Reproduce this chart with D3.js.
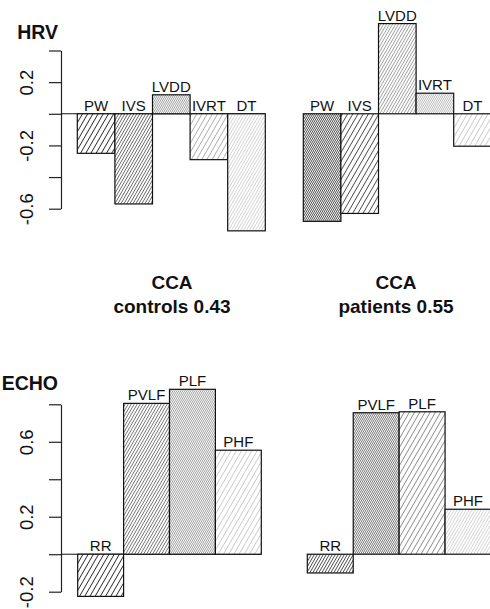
<!DOCTYPE html>
<html>
<head>
<meta charset="utf-8">
<script src="https://cdn.jsdelivr.net/npm/d3@7"></script>
<style>
  body { margin: 0; background: #fff; }
  svg { display: block; font-family: "Liberation Sans", Arial, Helvetica, sans-serif; }
</style>
</head>
<body>
<script>
// data
var hrvVars = ["PW", "IVS", "LVDD", "IVRT", "DT"];
var hrvControls = [-0.25, -0.57, 0.12, -0.29, -0.74];
var hrvPatients = [-0.68, -0.63, 0.57, 0.13, -0.205];
var echoVars = ["RR", "PVLF", "PLF", "PHF"];
var echoControls = [-0.225, 0.805, 0.88, 0.555];
var echoPatients = [-0.10, 0.755, 0.76, 0.24];
var hrvTicks = [-0.6, -0.4, -0.2, 0, 0.2, 0.4];
var hrvTickLabels = [-0.6, -0.2, 0.2];
var echoTicks = [-0.2, 0, 0.2, 0.4, 0.6, 0.8];
var echoTickLabels = [-0.2, 0.2, 0.6];
var groupNames = ["controls 0.43", "patients 0.55"];

// hatch styles (horizontal spacing, line colour) per bar
var S = 5.2, M = 3.0, D = 2.0;
var hrvStyleL = [[S, "#222"], [M, "#444"], [D, "#888"], [S, "#aaa"], [M, "#c8c8c8"]];
var hrvStyleR = [[D, "#222"], [S, "#444"], [M, "#888"], [D, "#aaa"], [S, "#c8c8c8"]];
var echoStyleL = [[S, "#222"], [M, "#555"], [D, "#888"], [S, "#c8c8c8"]];
var echoStyleR = [[M, "#222"], [D, "#555"], [S, "#888"], [M, "#c8c8c8"]];

var W = 490, H = 609;
var svg = d3.select("body").append("svg").attr("width", W).attr("height", H);
var defs = svg.append("defs");

var patCount = 0;
function hatch(style) {
  var id = "h" + (patCount++);
  var dense = style[0] < 2.5;
  var sp = style[0] * Math.cos(Math.PI / 6);
  var p = defs.append("pattern")
    .attr("id", id)
    .attr("patternUnits", "userSpaceOnUse")
    .attr("width", sp).attr("height", 10)
    .attr("patternTransform", "rotate(30)");
  p.append("rect").attr("width", sp).attr("height", 10).attr("fill", "#fff");
  p.append("line")
    .attr("x1", sp / 2).attr("x2", sp / 2)
    .attr("y1", -1).attr("y2", 11)
    .attr("stroke", style[1])
    .attr("stroke-width", dense ? 0.8 : (style[0] < 3.5 ? 0.75 : 0.9))
    .attr("shape-rendering", dense ? "crispEdges" : "auto");
  return "url(#" + id + ")";
}

function panel(vars, vals, styles, x, y, withAxis) {
  var g = svg.append("g");
  if (withAxis) {
    // line at zero from the axis to the bars
    g.append("line")
      .attr("x1", 61).attr("x2", x.range()[1])
      .attr("y1", y(0)).attr("y2", y(0))
      .attr("stroke", "#111").attr("stroke-width", 1);
  }
  g.selectAll("rect.bar")
    .data(vals)
    .enter()
    .append("rect")
    .attr("class", "bar")
    .attr("x", function(d, i) { return x(vars[i]); })
    .attr("y", function(d) { return y(Math.max(0, d)); })
    .attr("width", x.bandwidth())
    .attr("height", function(d) { return Math.abs(y(d) - y(0)); })
    .attr("fill", function(d, i) { return hatch(styles[i]); })
    .attr("stroke", "#111")
    .attr("stroke-width", 1.2);

  g.selectAll("text.lab")
    .data(vals)
    .enter()
    .append("text")
    .attr("class", "lab")
    .attr("x", function(d, i) { return x(vars[i]) + x.bandwidth() / 2; })
    .attr("y", function(d) { return y(Math.max(0, d)) - 3; })
    .attr("text-anchor", "middle")
    .attr("font-size", "15px")
    .attr("fill", "#111")
    .text(function(d, i) { return vars[i]; });
}

function yAxis(y, ticks, labels) {
  var ax = svg.append("g")
    .attr("transform", "translate(61,0)")
    .call(d3.axisLeft(y)
      .tickValues(ticks)
      .tickSize(12)
      .tickSizeOuter(0)
      .tickFormat(function(d) { return labels.indexOf(d) >= 0 ? d3.format("")(d).replace("−", "-") : ""; }));
  ax.select(".domain").attr("stroke", "#222").attr("stroke-width", 1.2);
  ax.selectAll(".tick line").attr("stroke", "#222").attr("stroke-width", 1.2);
  ax.selectAll(".tick text")
    .attr("transform", "rotate(-90)")
    .attr("x", 0).attr("y", -28).attr("dy", 0)
    .attr("text-anchor", "middle")
    .attr("font-size", "18.5px")
    .attr("font-family", "Liberation Sans, Arial, sans-serif")
    .attr("fill", "#111");
}

// HRV row
var yHrv = d3.scaleLinear().domain([-0.6, 0.4]).range([208.7, 50.5]);
var xHrvL = d3.scaleBand().domain(hrvVars).range([77.3, 265.3]).padding(0);
var xHrvR = d3.scaleBand().domain(hrvVars).range([303.3, 491.3]).padding(0);
yAxis(yHrv, hrvTicks, hrvTickLabels);
panel(hrvVars, hrvControls, hrvStyleL, xHrvL, yHrv, true);
panel(hrvVars, hrvPatients, hrvStyleR, xHrvR, yHrv, false);

// ECHO row
var yEcho = d3.scaleLinear().domain([-0.2, 0.8]).range([591.7, 404.3]);
var xEchoL = d3.scaleBand().domain(echoVars).range([77.7, 261.3]).padding(0);
var xEchoR = d3.scaleBand().domain(echoVars).range([307.3, 491]).padding(0);
yAxis(yEcho, echoTicks, echoTickLabels);
panel(echoVars, echoControls, echoStyleL, xEchoL, yEcho, true);
panel(echoVars, echoPatients, echoStyleR, xEchoR, yEcho, false);

// row titles
svg.append("text").attr("x", 58).attr("y", 39).attr("text-anchor", "end")
  .attr("font-size", "19.5px").attr("font-weight", "bold").attr("fill", "#111").text("HRV");
svg.append("text").attr("x", 58).attr("y", 390).attr("text-anchor", "end")
  .attr("font-size", "19.5px").attr("font-weight", "bold").attr("fill", "#111").text("ECHO");

// CCA captions between rows
var capX = [172, 396];
groupNames.forEach(function(name, i) {
  var t = svg.append("text")
    .attr("text-anchor", "middle")
    .attr("font-size", "19px")
    .attr("font-weight", "bold")
    .attr("fill", "#111");
  t.append("tspan").attr("x", capX[i]).attr("y", 289).text("CCA");
  t.append("tspan").attr("x", capX[i]).attr("y", 313).text(name);
});
</script>
</body>
</html>
